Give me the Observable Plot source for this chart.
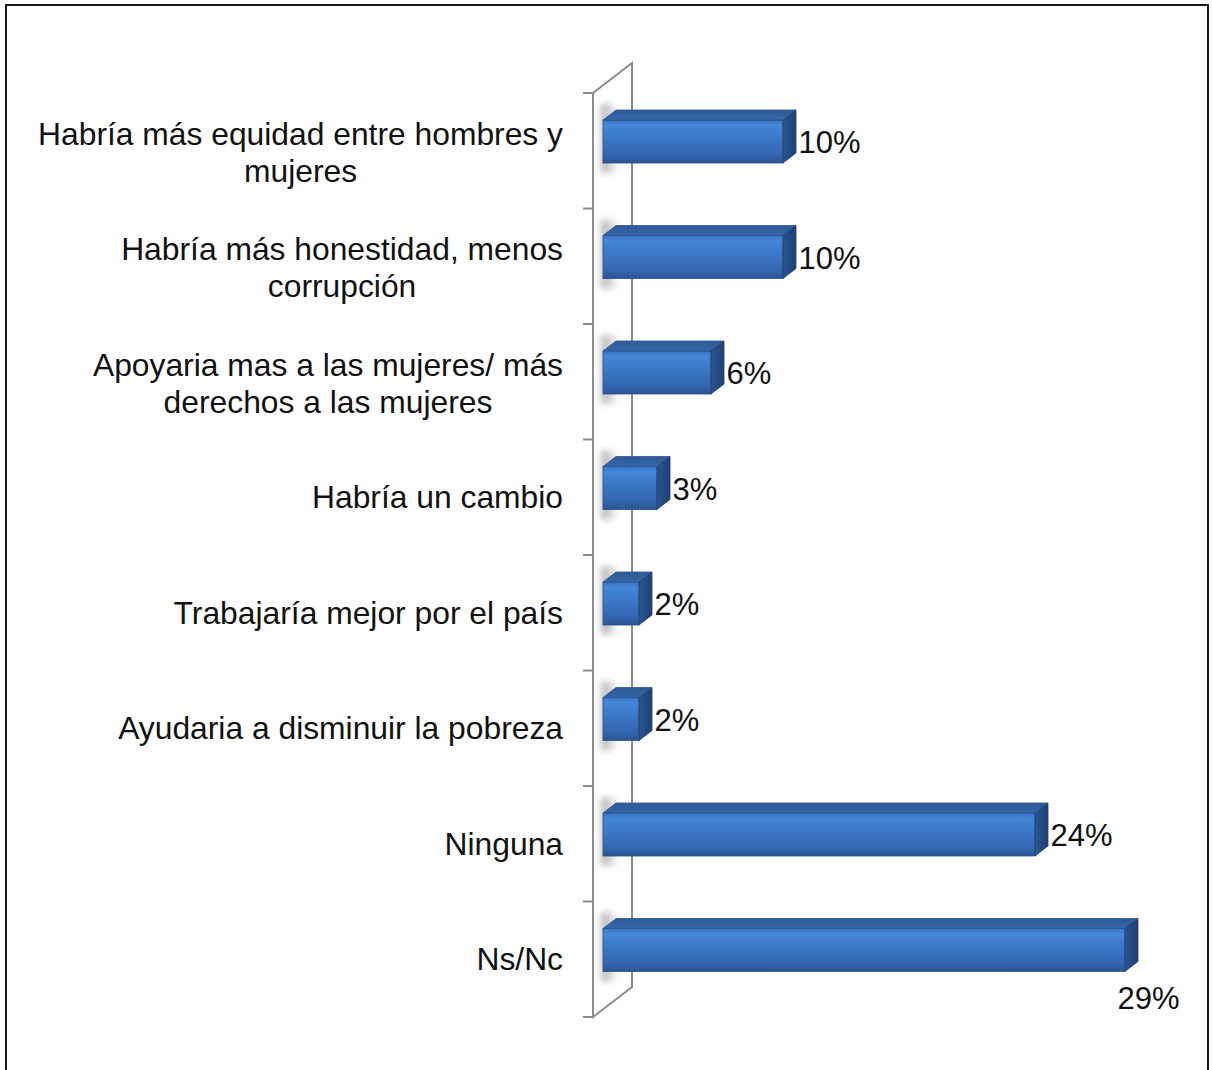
<!DOCTYPE html>
<html>
<head>
<meta charset="utf-8">
<script src="https://cdn.jsdelivr.net/npm/d3@7"></script>
<script src="https://cdn.jsdelivr.net/npm/@observablehq/plot@0.6"></script>
<style>
  html, body { margin: 0; padding: 0; background: #fff; overflow: hidden; }
  #wrap { position: relative; width: 1212px; height: 1070px; }
  #frame { position: absolute; left: 5px; top: 4px; width: 1200px; height: 1100px; border: 2px solid #1a1a1a; pointer-events: none; }
</style>
</head>
<body>
<svg width="0" height="0" style="position:absolute">
  <defs>
    <linearGradient id="frontGrad" x1="0" y1="0" x2="0" y2="1">
      <stop offset="0" stop-color="#3a72bf"/>
      <stop offset="0.12" stop-color="#4587d8"/>
      <stop offset="0.35" stop-color="#3d7bcc"/>
      <stop offset="0.8" stop-color="#3467b1"/>
      <stop offset="1" stop-color="#2a5592"/>
    </linearGradient>
    <linearGradient id="topGrad" x1="0" y1="0" x2="0" y2="1">
      <stop offset="0" stop-color="#2d5b97"/>
      <stop offset="1" stop-color="#3566a8"/>
    </linearGradient>
    <linearGradient id="sideGrad" x1="0" y1="0" x2="1" y2="0">
      <stop offset="0" stop-color="#2a5592"/>
      <stop offset="1" stop-color="#1f4072"/>
    </linearGradient>
    <linearGradient id="shadowGrad" x1="0" y1="0" x2="1" y2="0">
      <stop offset="0" stop-color="#b4b4b4"/>
      <stop offset="0.5" stop-color="#d6d6d6"/>
      <stop offset="1" stop-color="#ffffff" stop-opacity="0"/>
    </linearGradient>
    <filter id="blur" x="-50%" y="-50%" width="200%" height="200%">
      <feGaussianBlur stdDeviation="3"/>
    </filter>
  </defs>
</svg>
<div id="wrap"><div id="frame"></div></div>
<script>
// ---- Data ----
const categories = [
  "Habría más equidad entre hombres y mujeres",
  "Habría más honestidad, menos corrupción",
  "Apoyaria mas a las mujeres/ más derechos a las mujeres",
  "Habría un cambio",
  "Trabajaría mejor por el país",
  "Ayudaria a disminuir la pobreza",
  "Ninguna",
  "Ns/Nc"
];
const labelLines = [
  ["Habría más equidad entre hombres y", "mujeres"],
  ["Habría más honestidad, menos", "corrupción"],
  ["Apoyaria mas a las mujeres/ más", "derechos a las mujeres"],
  ["Habría un cambio"],
  ["Trabajaría mejor por el país"],
  ["Ayudaria a disminuir la pobreza"],
  ["Ninguna"],
  ["Ns/Nc"]
];
const values = [10, 10, 6, 3, 2, 2, 24, 29];

const data = categories.map((cat, i) => ({cat, value: values[i], lines: labelLines[i]}));
const maxValue = d3.max(values);

const FONT = "'Liberation Sans', Arial, sans-serif";
const FS = 31.8;     // category labels
const FSV = 31;      // value labels
const DEPTH = [13, -10];       // bar 3D depth offset (px)
const WALL = [39, -30];        // wall depth offset (px)
const INSET_TOP = 27, INSET_BOTTOM = 45.5;

const canvas = document.createElement("canvas");
const ctx = canvas.getContext("2d");
ctx.font = `${FS}px ${FONT}`;
const measure = s => ctx.measureText(s).width;

function bandwidthOf(y, dims) {
  return y.bandwidth ? y.bandwidth() : (dims.height - dims.marginTop - dims.marginBottom) / categories.length;
}

// wall, ticks and shadows
function wallMark(index, scales, values, dims) {
  const {x, y} = scales;
  const bw = bandwidthOf(y, dims);
  const x0 = x(0);
  const fx = x0 - 10;
  const top = y(categories[0]);
  const bottom = y(categories[categories.length - 1]) + bw;
  const g = d3.create("svg:g");
  for (const d of data) {
    const yt = y(d.cat) + INSET_TOP;
    const yb = y(d.cat) + bw - INSET_BOTTOM;
    g.append("rect")
      .attr("x", x0 - 2).attr("y", yt + DEPTH[1] - 6)
      .attr("width", 20).attr("height", yb - yt - DEPTH[1] + 16)
      .attr("fill", "url(#shadowGrad)")
      .attr("filter", "url(#blur)");
  }
  g.append("path")
    .attr("d", `M${fx},${top}L${fx + WALL[0]},${top + WALL[1]}L${fx + WALL[0]},${bottom + WALL[1]}L${fx},${bottom}Z`)
    .attr("fill", "none").attr("stroke", "#8c8c8c").attr("stroke-width", 2);
  for (let i = 0; i <= categories.length; i++) {
    const yy = i < categories.length ? y(categories[i]) : bottom;
    g.append("line").attr("x1", fx - 10).attr("x2", fx).attr("y1", yy).attr("y2", yy)
      .attr("stroke", "#8c8c8c").attr("stroke-width", 2);
  }
  return g.node();
}

// top and side faces of the 3D bars
function facesMark(index, scales, values, dims) {
  const {x, y} = scales;
  const bw = bandwidthOf(y, dims);
  const g = d3.create("svg:g").attr("stroke-linejoin", "round");
  const [dx, dy] = DEPTH;
  for (const d of data) {
    const x0 = x(0), x1 = x(d.value);
    const yt = y(d.cat) + INSET_TOP;
    const yb = y(d.cat) + bw - INSET_BOTTOM;
    g.append("path")
      .attr("d", `M${x0},${yt}L${x0 + dx},${yt + dy}L${x1 + dx},${yt + dy}L${x1},${yt}Z`)
      .attr("fill", "url(#topGrad)").attr("stroke", "#2b5690").attr("stroke-width", 0.8);
    g.append("path")
      .attr("d", `M${x1},${yt}L${x1 + dx},${yt + dy}L${x1 + dx},${yb + dy}L${x1},${yb}Z`)
      .attr("fill", "url(#sideGrad)").attr("stroke", "#1f4072").attr("stroke-width", 0.8);
  }
  return g.node();
}

// category labels: block right-aligned, lines centred within the block
function categoryLabels(index, scales, values, dims) {
  const {x, y} = scales;
  const bw = bandwidthOf(y, dims);
  const g = d3.create("svg:g")
    .attr("font-family", FONT).attr("font-size", FS).attr("fill", "#111")
    .attr("text-anchor", "middle");
  const right = x(0) - 40;
  const lh = 37;
  for (const d of data) {
    const w = Math.max(...d.lines.map(measure));
    const cx = right - w / 2;
    const cy = y(d.cat) + bw / 2 + (d.lines.length > 1 ? 1.5 : 0);
    d.lines.forEach((line, i) => {
      g.append("text")
        .attr("x", cx)
        .attr("y", cy + (i - (d.lines.length - 1) / 2) * lh)
        .attr("dy", "0.35em")
        .text(line);
    });
  }
  return g.node();
}

const chart = Plot.plot({
  width: 1212,
  height: 1070,
  marginLeft: 603,
  marginRight: 69,
  marginTop: 93,
  marginBottom: 53,
  style: {background: "transparent", fontFamily: FONT, fontSize: FSV + "px", overflow: "visible"},
  x: {domain: [0, 30], axis: null},
  y: {domain: categories, axis: null, padding: 0, round: false},
  marks: [
    wallMark,
    Plot.barX(data, {
      x: "value", y: "cat",
      insetTop: INSET_TOP, insetBottom: INSET_BOTTOM,
      fill: "url(#frontGrad)", stroke: "#28518a", strokeWidth: 0.8
    }),
    facesMark,
    Plot.text(data.filter(d => d.value < maxValue), {
      x: "value", y: "cat", text: d => d.value + "%",
      textAnchor: "start", dx: 15, dy: -8, fontSize: FSV, fill: "#111"
    }),
    Plot.text(data.filter(d => d.value === maxValue), {
      x: "value", y: "cat", text: d => d.value + "%",
      textAnchor: "start", dx: -8, dy: 39, fontSize: FSV, fill: "#111"
    }),
    categoryLabels
  ]
});

document.getElementById("wrap").insertBefore(chart, document.getElementById("frame"));
</script>
</body>
</html>
